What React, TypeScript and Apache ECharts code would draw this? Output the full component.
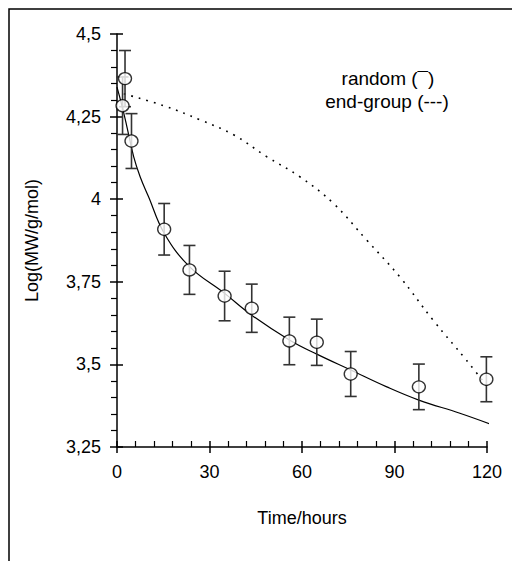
import React, { useEffect, useRef } from "react";
import * as echarts from "echarts";

// Measured points (time in hours, log MW) with error half-widths
const pointTimes = [1.8, 2.6, 4.7, 15.3, 23.5, 34.9, 43.7, 55.9, 64.8, 75.8, 97.9, 119.8];
const pointValues = [4.283, 4.365, 4.176, 3.909, 3.786, 3.707, 3.67, 3.571, 3.567, 3.471, 3.432, 3.455];
const pointErrors = [0.087, 0.085, 0.083, 0.078, 0.074, 0.075, 0.073, 0.072, 0.07, 0.068, 0.069, 0.068];

// Random scission fit (solid line)
const randomTimes = [0, 1.6, 3.2, 5.4, 7.5, 10.2, 15.3, 23.5, 34.9, 43.7, 55.9, 64.8, 75.8, 87.5, 97.9, 111.2, 122];
const randomValues = [4.339, 4.283, 4.22, 4.129, 4.068, 4.008, 3.897, 3.796, 3.715, 3.649, 3.574, 3.531, 3.483, 3.432, 3.392, 3.352, 3.316];

// End-group fit (dotted line)
const endTimes = [2.2, 15.1, 27, 37.8, 48.5, 59.3, 70.1, 80.9, 91.7, 102.5, 113.3, 121.7];
const endValues = [4.319, 4.283, 4.24, 4.195, 4.129, 4.068, 3.988, 3.877, 3.765, 3.634, 3.513, 3.414];

const xTicks = [0, 30, 60, 90, 120];
const yTicks = [3.25, 3.5, 3.75, 4, 4.25, 4.5];

const legendLines = ["random (\u00af)", "end-group (---)"];

const FONT = "'Liberation Sans', Arial, sans-serif";

export default function App() {
  const ref = useRef<HTMLDivElement>(null);

  useEffect(() => {
    if (!ref.current) return;
    const chart = echarts.init(ref.current, null, { renderer: "svg" });

    const points = pointTimes.map((t, i) => [t, pointValues[i]]);
    const bars = pointTimes.map((t, i) => [t, pointValues[i] - pointErrors[i], pointValues[i] + pointErrors[i]]);
    const randomLine = randomTimes.map((t, i) => [t, randomValues[i]]);
    const endLine = endTimes.map((t, i) => [t, endValues[i]]);

    const fmt = (v: number) => String(v).replace(".", ",");

    const baseX = {
      type: "value",
      min: xTicks[0],
      max: xTicks[xTicks.length - 1],
      interval: 30,
      position: "bottom",
      splitLine: { show: false },
    };
    const baseY = {
      type: "value",
      min: yTicks[0],
      max: yTicks[yTicks.length - 1],
      interval: 0.25,
      position: "left",
      splitLine: { show: false },
    };

    chart.setOption({
      animation: false,
      backgroundColor: "#fff",
      grid: { left: 117, right: 25, top: 34, bottom: 114, containLabel: false },
      xAxis: [
        {
          ...baseX,
          axisLine: { show: true, lineStyle: { color: "#000", width: 1.5 } },
          axisTick: { show: true, inside: false, length: 6, lineStyle: { color: "#000", width: 1.5 } },
          minorTick: { show: false },
          axisLabel: { color: "#000", fontSize: 18, fontFamily: FONT, margin: 16 },
          name: "Time/hours",
          nameLocation: "middle",
          nameGap: 62,
          nameTextStyle: { color: "#000", fontSize: 18, fontFamily: FONT },
        },
        {
          ...baseX,
          axisLine: { show: false },
          axisTick: { show: true, inside: true, length: 6, lineStyle: { color: "#000", width: 1.5 } },
          minorTick: { show: true, splitNumber: 5, length: 6, lineStyle: { color: "#000", width: 1.2 } },
          axisLabel: { show: false },
        },
      ],
      yAxis: [
        {
          ...baseY,
          axisLine: { show: true, lineStyle: { color: "#000", width: 1.5 } },
          axisTick: { show: true, inside: false, length: 7, lineStyle: { color: "#000", width: 1.5 } },
          minorTick: { show: true, splitNumber: 5, length: 6, lineStyle: { color: "#000", width: 1.2 } },
          axisLabel: { color: "#000", fontSize: 18, fontFamily: FONT, margin: 16, formatter: fmt },
          name: "Log(MW/g/mol)",
          nameLocation: "middle",
          nameRotate: 90,
          nameGap: 76,
          nameTextStyle: { color: "#000", fontSize: 18, fontFamily: FONT },
        },
        {
          ...baseY,
          axisLine: { show: false },
          axisTick: { show: true, inside: true, length: 6, lineStyle: { color: "#000", width: 1.5 } },
          minorTick: { show: false },
          axisLabel: { show: false },
        },
      ],
      graphic: [
        {
          type: "polyline",
          shape: { points: [[9, 600], [9, 9], [600, 9]] },
          style: { stroke: "#000", lineWidth: 1.5, fill: "none" },
          silent: true,
        },
        {
          type: "text",
          x: 388,
          y: 78,
          style: { text: legendLines[0], font: `19px ${FONT}`, fill: "#000", textAlign: "center", textVerticalAlign: "middle" },
        },
        {
          type: "text",
          x: 387,
          y: 101,
          style: { text: legendLines[1], font: `19px ${FONT}`, fill: "#000", textAlign: "center", textVerticalAlign: "middle" },
        },
      ],
      series: [
        {
          type: "line",
          data: randomLine,
          smooth: 0.4,
          showSymbol: false,
          clip: false,
          lineStyle: { color: "#000", width: 1.2 },
          z: 2,
        },
        {
          type: "line",
          data: endLine,
          smooth: 0.4,
          showSymbol: false,
          clip: false,
          lineStyle: { color: "#000", width: 1.6, type: [1.8, 6] },
          z: 2,
        },
        {
          type: "custom",
          data: bars,
          z: 3,
          renderItem: (params: any, api: any) => {
            const x = api.value(0);
            const lo = api.coord([x, api.value(1)]);
            const hi = api.coord([x, api.value(2)]);
            const w = 6;
            const st = { stroke: "#333", lineWidth: 1.6 };
            return {
              type: "group",
              children: [
                { type: "line", shape: { x1: lo[0], y1: lo[1], x2: hi[0], y2: hi[1] }, style: st },
                { type: "line", shape: { x1: lo[0] - w, y1: lo[1], x2: lo[0] + w, y2: lo[1] }, style: st },
                { type: "line", shape: { x1: hi[0] - w, y1: hi[1], x2: hi[0] + w, y2: hi[1] }, style: st },
              ],
            };
          },
        },
        {
          type: "scatter",
          data: points,
          symbol: "circle",
          symbolSize: [13, 12],
          itemStyle: { color: "#fff", borderColor: "#000", borderWidth: 1.3 },
          z: 4,
        },
      ],
    });

    return () => chart.dispose();
  }, []);

  return (
    <div
      ref={ref}
      style={{ position: "absolute", left: 0, top: 0, width: 512, height: 561 }}
    />
  );
}
